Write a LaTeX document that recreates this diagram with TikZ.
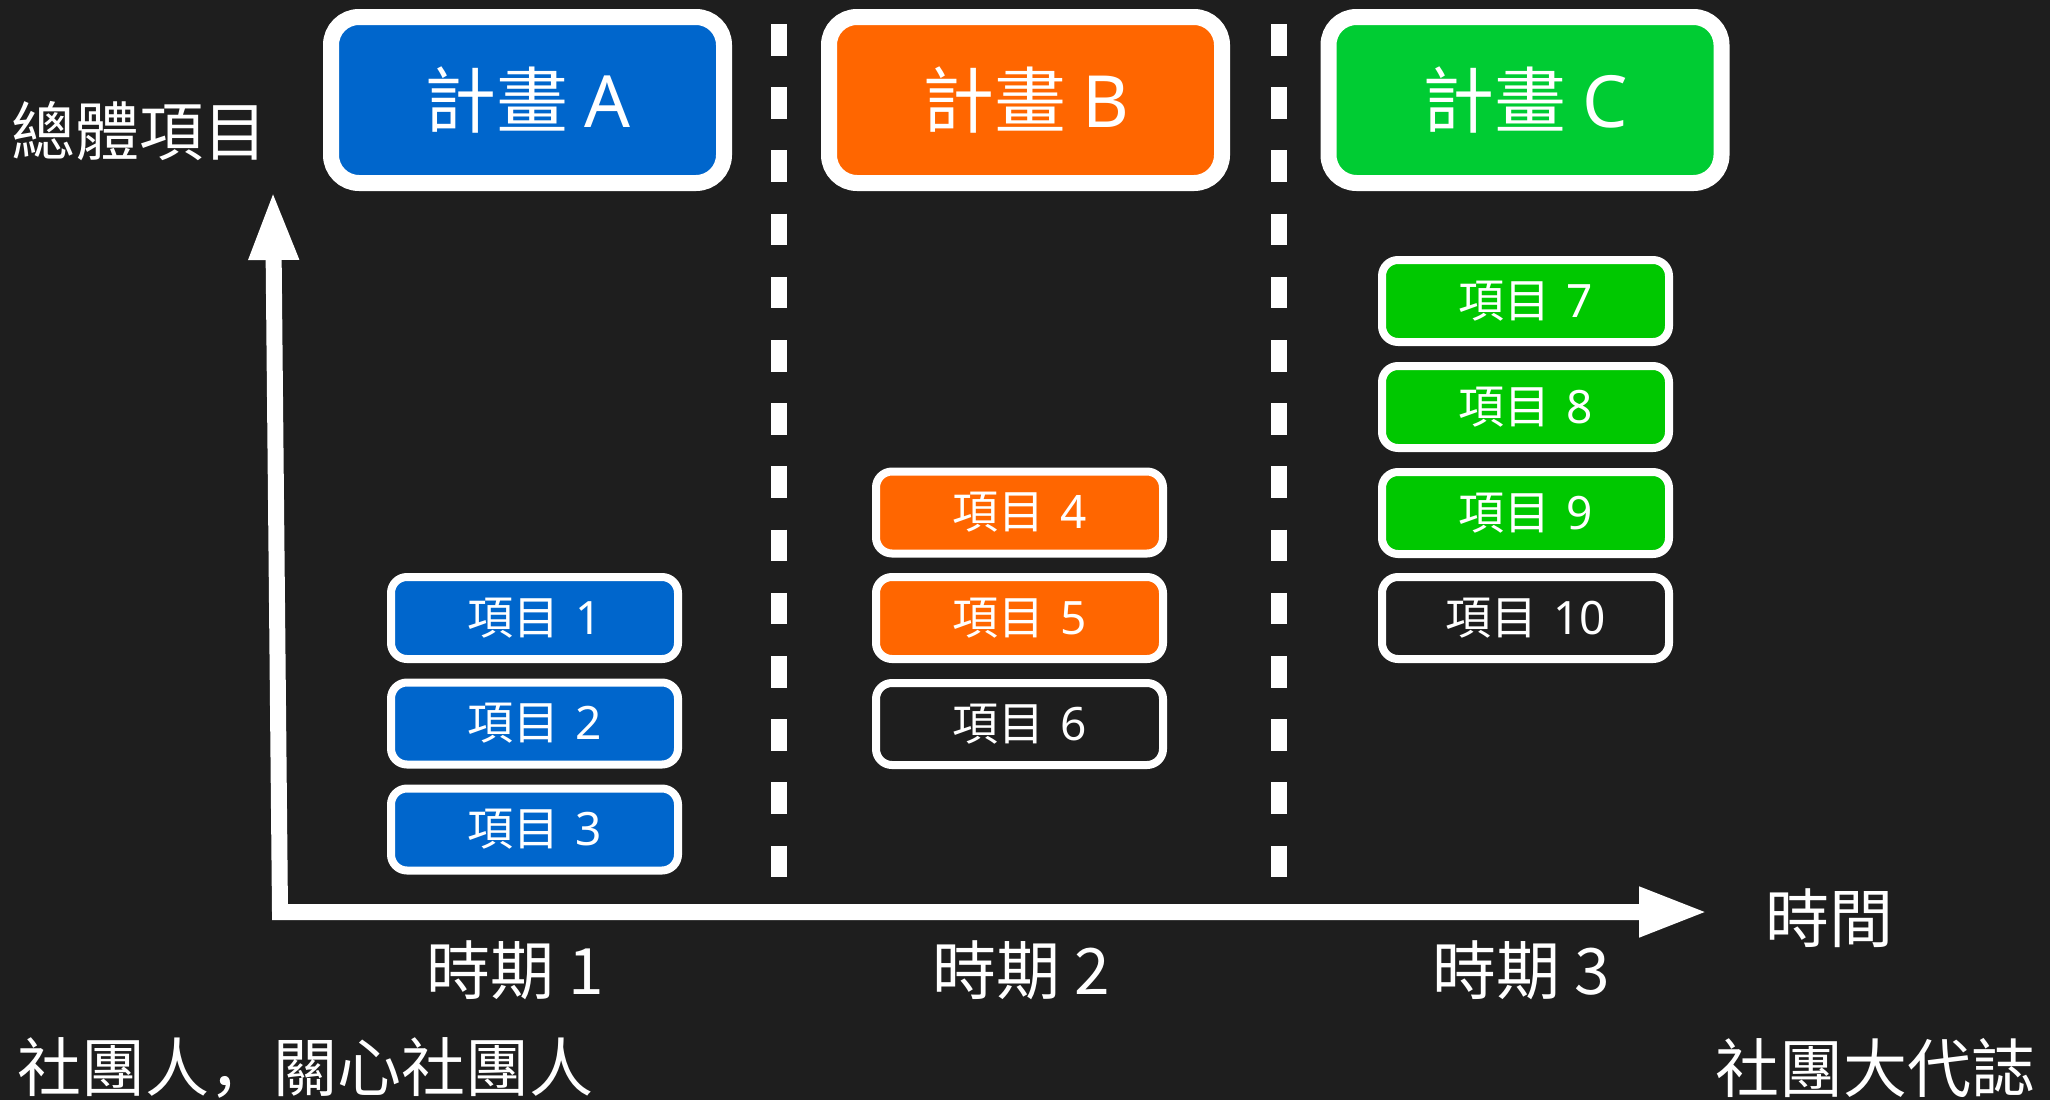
\documentclass[tikz,border=0pt]{standalone}
\usepackage{fontspec}
\setmainfont{Noto Sans CJK TC}
\newfontfamily\latinfont{Noto Sans}
\newfontfamily\jpfont{Noto Sans CJK JP}
\usetikzlibrary{arrows.meta}
\definecolor{bgc}{HTML}{1E1E1E}
\definecolor{blueA}{HTML}{0066CC}
\definecolor{orangeB}{HTML}{FF6600}
\definecolor{greenC}{HTML}{00CC33}
\definecolor{greenI}{HTML}{00C800}
\newcommand\itemlbl[1]{項目\hspace{0.34em}{\latinfont #1}}
\tikzset{
  bigbox/.style={draw=white, line width=16pt, rounded corners=28pt, minimum width=393pt, minimum height=166pt, inner sep=0pt, text=white, font=\fontsize{72pt}{80pt}\selectfont},
  itembox/.style={draw=white, line width=8pt, rounded corners=16pt, minimum width=287pt, minimum height=82pt, inner sep=0pt, text=white, font=\fontsize{46pt}{52pt}\selectfont},
  label/.style={text=white, inner sep=0pt, font=\fontsize{64pt}{72pt}\selectfont},
  divider/.style={draw=white, line width=16pt, dash pattern=on 31.6pt off 31.6pt},
  axis/.style={draw=white, line width=16pt, line join=miter, arrows={Triangle[length=69pt,width=46pt]-Triangle[length=69pt,width=46pt]}}
}
\begin{document}
\begin{tikzpicture}[x=1pt,y=-1pt]
\fill[bgc] (0,0) rectangle (2050,1100);
\useasboundingbox (0,0) rectangle (2050,1100);
% dividers
\coordinate (d1a) at (779,24);
\coordinate (d1b) at (779,877.5);
\coordinate (d2a) at (1279,24);
\coordinate (d2b) at (1279,877.5);
\draw[divider] (d1a) -- (d1b);
\draw[divider] (d2a) -- (d2b);
% axes
\coordinate (ytop) at (273,191);
\coordinate (orig) at (280,912);
\coordinate (xend) at (1708,912);
\draw[axis] (ytop) -- (orig) -- (xend);
% plan boxes
\node[bigbox, fill=blueA] (pA) at (527.5,100) {計畫 {\latinfont A}};
\node[bigbox, fill=orangeB] (pB) at (1025.5,100) {計畫 {\latinfont B}};
\node[bigbox, fill=greenC] (pC) at (1525,100) {計畫 {\latinfont C}};
% items
\node[itembox, fill=blueA] (i1) at (534.5,618) {\itemlbl{1}};
\node[itembox, fill=blueA] (i2) at (534.5,723.5) {\itemlbl{2}};
\node[itembox, fill=blueA] (i3) at (534.5,829.5) {\itemlbl{3}};
\node[itembox, fill=orangeB] (i4) at (1019.5,512.5) {\itemlbl{4}};
\node[itembox, fill=orangeB] (i5) at (1019.5,618) {\itemlbl{5}};
\node[itembox, fill=bgc] (i6) at (1019.5,724) {\itemlbl{6}};
\node[itembox, fill=greenI] (i7) at (1525.5,301) {\itemlbl{7}};
\node[itembox, fill=greenI] (i8) at (1525.5,407) {\itemlbl{8}};
\node[itembox, fill=greenI] (i9) at (1525.5,513) {\itemlbl{9}};
\node[itembox, fill=bgc] (i10) at (1525.5,618) {\itemlbl{10}};
% labels
\node[label] (yl) at (139,131) {總體項目};
\node[label] (xl) at (1829,918) {時間};
\node[label] (t1) at (515,970) {時期 1};
\node[label] (t2) at (1021,970) {時期 2};
\node[label] (t3) at (1521,970) {時期 3};
\node[label] (f1) at (305.5,1068) {社團人{\jpfont ，}關心社團人};
\node[label] (f2) at (1875,1068) {社團大代誌};
\end{tikzpicture}
\end{document}
